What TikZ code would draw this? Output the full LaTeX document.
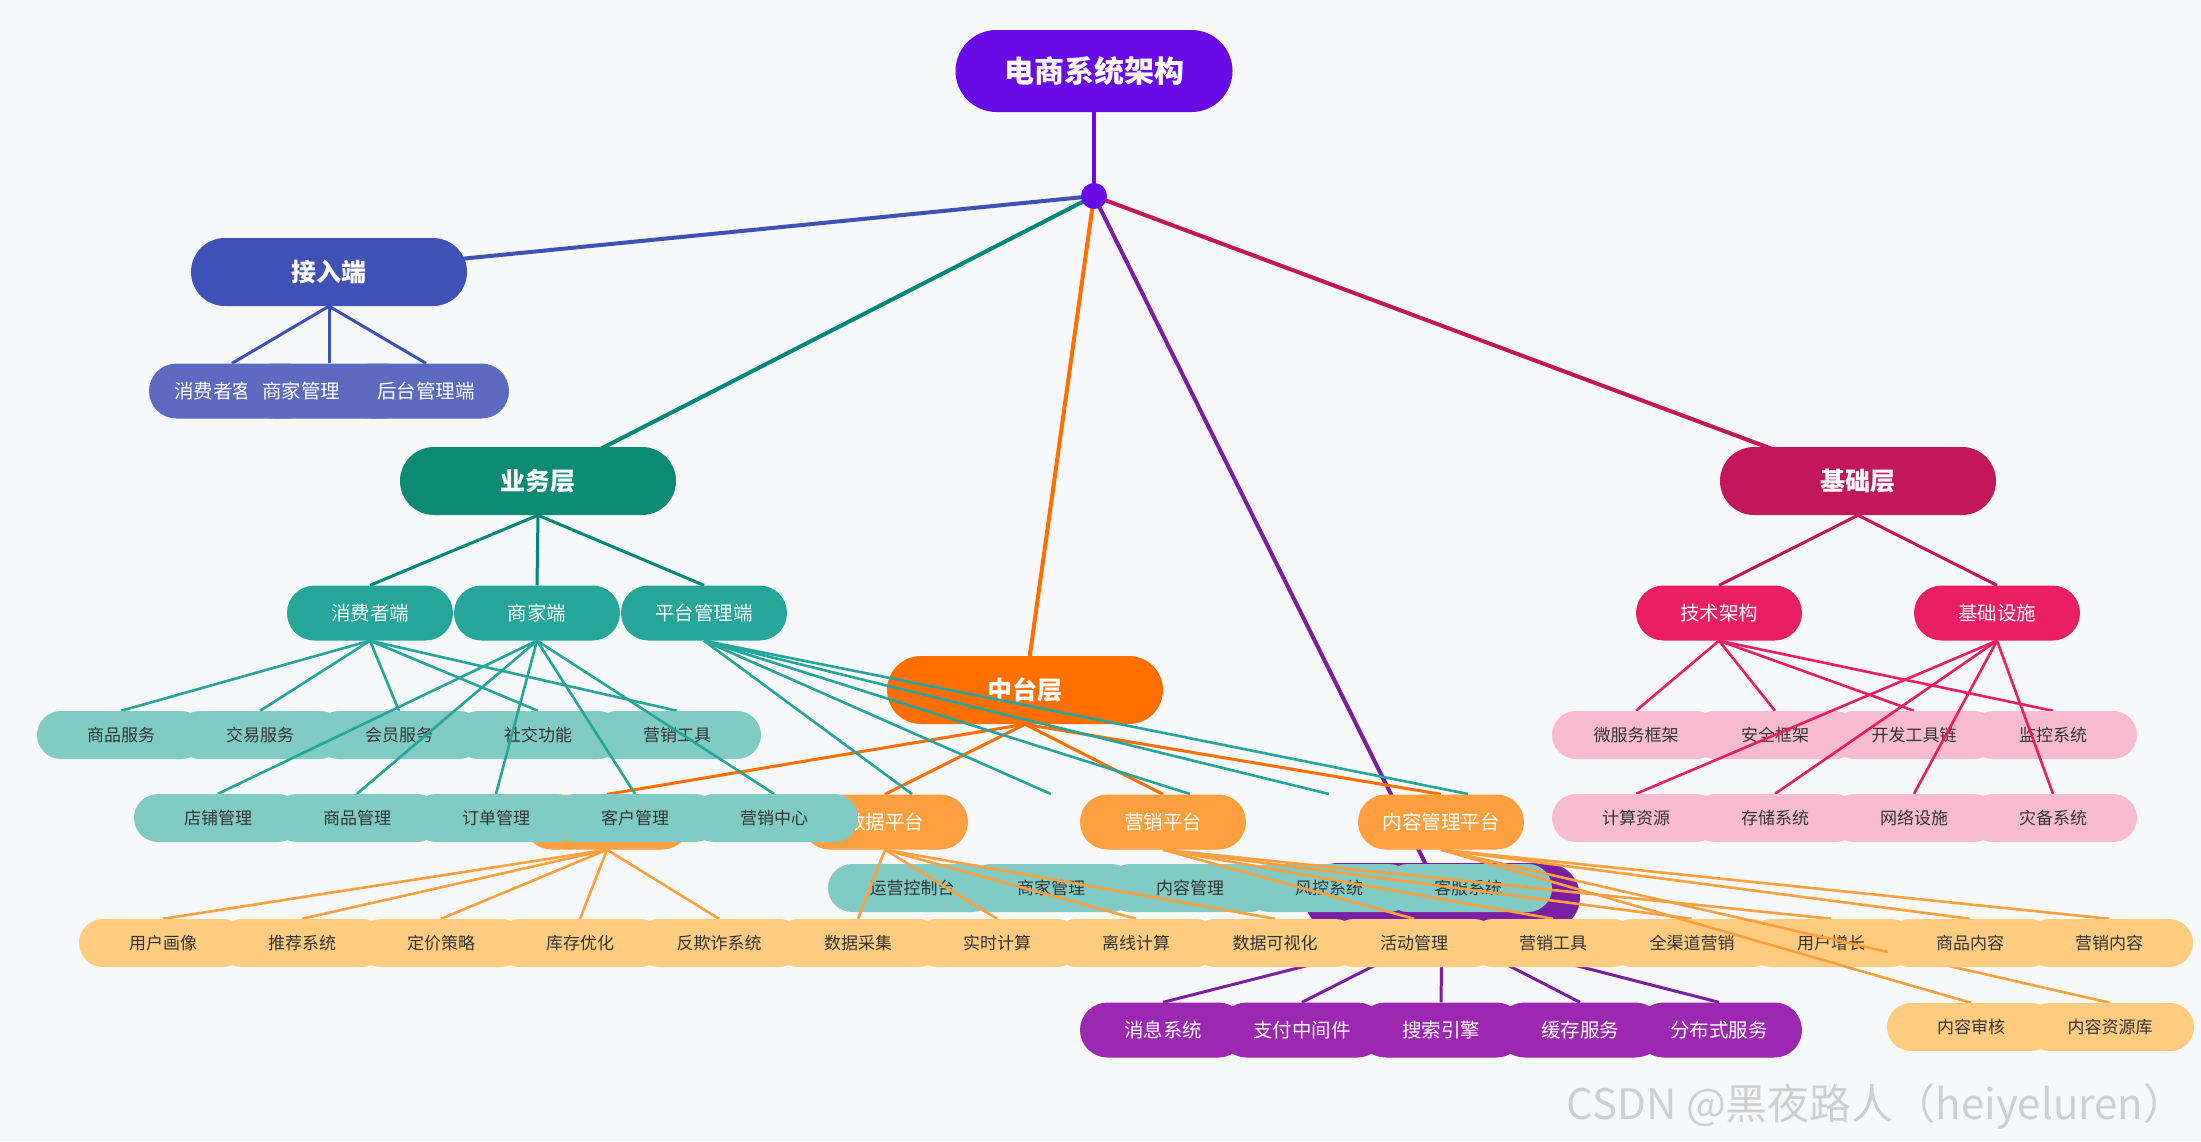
\documentclass[tikz,border=0pt]{standalone}
\usepackage{fontspec}
\setmainfont{Noto Sans CJK SC}
\pgfdeclarelayer{bgl}
\pgfdeclarelayer{eA}\pgfdeclarelayer{nA}
\pgfdeclarelayer{eB}\pgfdeclarelayer{nB}
\pgfdeclarelayer{Xe}\pgfdeclarelayer{Xn}
\pgfdeclarelayer{Se}\pgfdeclarelayer{Sn}
\pgfdeclarelayer{Pe}\pgfdeclarelayer{Pn}
\pgfdeclarelayer{Oe}\pgfdeclarelayer{On}
\pgfdeclarelayer{De}\pgfdeclarelayer{Dn}
\pgfdeclarelayer{Me}\pgfdeclarelayer{Mn}
\pgfdeclarelayer{Ce}\pgfdeclarelayer{Cn}
\pgfdeclarelayer{Te}\pgfdeclarelayer{Tn}
\pgfdeclarelayer{Ie}\pgfdeclarelayer{In}
\pgfsetlayers{bgl,eA,nA,eB,nB,Xe,Xn,Se,Sn,Pe,Pn,Oe,On,De,Dn,Me,Mn,Ce,Cn,Te,Tn,Ie,In,main}
\definecolor{bgc}{HTML}{F7F8FA}
\definecolor{rootc}{HTML}{6A0AE6}
\definecolor{indA}{HTML}{3F51B5}
\definecolor{indK}{HTML}{5C6BC0}
\definecolor{tealA}{HTML}{0D8B75}
\definecolor{tealE}{HTML}{00897B}
\definecolor{tealK}{HTML}{26A69A}
\definecolor{tealL}{HTML}{80CBC4}
\definecolor{orgA}{HTML}{FF6F00}
\definecolor{orgK}{HTML}{FFA040}
\definecolor{orgL}{HTML}{FFCC80}
\definecolor{purA}{HTML}{7B1FA2}
\definecolor{purK}{HTML}{9C27B0}
\definecolor{pinkA}{HTML}{C2185B}
\definecolor{pinkK}{HTML}{E91E63}
\definecolor{pinkL}{HTML}{F8BBD0}
\definecolor{txt}{HTML}{333333}
\definecolor{wmark}{HTML}{CFCFCF}
\tikzset{
  layerbox/.style={minimum width=276pt, minimum height=68pt, rounded corners=34pt, inner sep=0pt, text=white, font=\fontsize{25}{30}\selectfont\bfseries},
  kidbox/.style={minimum width=166pt, minimum height=55pt, rounded corners=27.5pt, inner sep=0pt, text=white, font=\fontsize{19.5}{23}\selectfont},
  leafbox/.style={minimum width=168pt, minimum height=48pt, rounded corners=24pt, inner sep=0pt, text=txt, font=\fontsize{17}{20}\selectfont},
  edgeA/.style={line width=4pt},
  edgeB/.style={line width=3pt},
  edgeC/.style={line width=2.6pt}
}
\begin{document}
\begin{tikzpicture}[x=1pt,y=-1pt]
\useasboundingbox (0,0) rectangle (2201,1141);
\begin{pgfonlayer}{bgl}
\fill[bgc] (0,0) rectangle (2201,1141);
\end{pgfonlayer}
% ---------- level 0/1 nodes
\begin{pgfonlayer}{nA}
\node[layerbox, fill=rootc, minimum width=277pt, minimum height=82pt, rounded corners=41pt, font=\fontsize{30}{36}\selectfont\bfseries] (R) at (1094,71) {电商系统架构};
\node[circle, fill=rootc, minimum size=26pt, inner sep=0pt] (hub) at (1094,196) {};
\node[layerbox, fill=indA] (A) at (329,272) {接入端};
\node[layerbox, fill=tealA] (B) at (538,481) {业务层};
\node[layerbox, fill=orgA] (C) at (1025,690) {中台层};
\node[layerbox, fill=purA] (D) at (1442,897) {};
\node[layerbox, fill=pinkA] (E) at (1858,481) {基础层};
\end{pgfonlayer}
% ---------- level 2 nodes
\begin{pgfonlayer}{nB}
\node[kidbox, fill=indK, text width=116pt, align=left] (a1) at (232,391) {消费者客};
\node[kidbox, fill=indK, text width=134pt, align=left] (a2) at (329,391) {商家管理};
\node[kidbox, fill=indK] (a3) at (426,391) {后台管理端};
\node[kidbox, fill=tealK] (b1) at (370,613) {消费者端};
\node[kidbox, fill=tealK] (b2) at (537,613) {商家端};
\node[kidbox, fill=tealK] (b3) at (704,613) {平台管理端};
\node[kidbox, fill=orgK] (c1) at (607,822) {};
\node[kidbox, fill=orgK] (c2) at (885,822) {数据平台};
\node[kidbox, fill=orgK] (c3) at (1163,822) {营销平台};
\node[kidbox, fill=orgK] (c4) at (1441,822) {内容管理平台};
\foreach \t [count=\i from 0] in {消息系统,支付中间件,搜索引擎,缓存服务,分布式服务}
  \node[kidbox, fill=purK] (d\i) at (1163+139*\i,1030) {\t};
\node[kidbox, fill=pinkK] (t1) at (1719,613) {技术架构};
\node[kidbox, fill=pinkK] (t2) at (1997,613) {基础设施};
\end{pgfonlayer}
% ---------- level 3 nodes
\begin{pgfonlayer}{Xn}
\foreach \t [count=\i from 0] in {商品服务,交易服务,会员服务,社交功能,营销工具}
  \node[leafbox, fill=tealL] (x\i) at (121+139*\i,735) {\t};
\end{pgfonlayer}
\begin{pgfonlayer}{Sn}
\foreach \t [count=\i from 0] in {店铺管理,商品管理,订单管理,客户管理,营销中心}
  \node[leafbox, fill=tealL] (s\i) at (218+139*\i,818) {\t};
\end{pgfonlayer}
\begin{pgfonlayer}{Pn}
\foreach \t [count=\i from 0] in {运营控制台,商家管理,内容管理,风控系统,客服系统}
  \node[leafbox, fill=tealL] (p\i) at (912+139*\i,888) {\t};
\end{pgfonlayer}
\begin{pgfonlayer}{On}
\foreach \t [count=\i from 0] in {用户画像,推荐系统,定价策略,库存优化,反欺诈系统}
  \node[leafbox, fill=orgL] (r\i) at (163+139*\i,943) {\t};
\end{pgfonlayer}
\begin{pgfonlayer}{Dn}
\foreach \t [count=\i from 5] in {数据采集,实时计算,离线计算,数据可视化}
  \node[leafbox, fill=orgL] (r\i) at (163+139*\i,943) {\t};
\end{pgfonlayer}
\begin{pgfonlayer}{Mn}
\foreach \t [count=\i from 9] in {活动管理,营销工具,全渠道营销,用户增长}
  \node[leafbox, fill=orgL] (r\i) at (163+139*\i,943) {\t};
\end{pgfonlayer}
\begin{pgfonlayer}{Cn}
\foreach \t [count=\i from 13] in {商品内容,营销内容}
  \node[leafbox, fill=orgL] (r\i) at (163+139*\i,943) {\t};
\node[leafbox, fill=orgL] (q0) at (1971,1027) {内容审核};
\node[leafbox, fill=orgL] (q1) at (2110,1027) {内容资源库};
\end{pgfonlayer}
\begin{pgfonlayer}{Tn}
\foreach \t [count=\i from 0] in {微服务框架,安全框架,开发工具链,监控系统}
  \node[leafbox, fill=pinkL] (u\i) at (1636+139*\i,735) {\t};
\end{pgfonlayer}
\begin{pgfonlayer}{In}
\foreach \t [count=\i from 0] in {计算资源,存储系统,网络设施,灾备系统}
  \node[leafbox, fill=pinkL] (v\i) at (1636+139*\i,818) {\t};
\end{pgfonlayer}
% ---------- edges level 1
\begin{pgfonlayer}{eA}
\draw[edgeA, rootc] (R.south) -- (hub.center);
\draw[edgeA, indA] (hub.center) -- (A.center);
\draw[edgeA, tealE] (hub.center) -- (B.center);
\draw[edgeA, orgA] (hub.center) -- (C.center);
\draw[edgeA, purA] (hub.center) -- (D.center);
\draw[edgeA, pinkA] (hub.center) -- (E.center);
\end{pgfonlayer}
% ---------- edges level 2
\begin{pgfonlayer}{eB}
\foreach \n in {a1,a2,a3} \draw[edgeB, indA] (A.south) -- (\n.north);
\foreach \n in {b1,b2,b3} \draw[edgeB, tealE] (B.south) -- (\n.north);
\foreach \n in {c1,c2,c3,c4} \draw[edgeB, orgA] (C.south) -- (\n.north);
\foreach \i in {0,...,4} \draw[edgeB, purA] (D.south) -- (d\i.north);
\foreach \n in {t1,t2} \draw[edgeB, pinkA] (E.south) -- (\n.north);
\end{pgfonlayer}
% ---------- edges level 3
\begin{pgfonlayer}{Xe}
\foreach \i in {0,...,4} \draw[edgeC, tealK] (b1.south) -- (x\i.north);
\end{pgfonlayer}
\begin{pgfonlayer}{Se}
\foreach \i in {0,...,4} \draw[edgeC, tealK] (b2.south) -- (s\i.north);
\end{pgfonlayer}
\begin{pgfonlayer}{Pe}
\foreach \i in {0,...,4} {
  \coordinate (pt\i) at (912+139*\i,794);
  \draw[edgeC, tealK] (b3.south) -- (pt\i);
}
\end{pgfonlayer}
\begin{pgfonlayer}{Oe}
\foreach \i in {0,...,4} \draw[edgeC, orgK] (c1.south) -- (r\i.north);
\end{pgfonlayer}
\begin{pgfonlayer}{De}
\foreach \i in {5,...,8} \draw[edgeC, orgK] (c2.south) -- (r\i.north);
\end{pgfonlayer}
\begin{pgfonlayer}{Me}
\foreach \i in {9,...,12} \draw[edgeC, orgK] (c3.south) -- (r\i.north);
\end{pgfonlayer}
\begin{pgfonlayer}{Ce}
\foreach \n in {r13,r14,q0,q1} \draw[edgeC, orgK] (c4.south) -- (\n.north);
\end{pgfonlayer}
\begin{pgfonlayer}{Te}
\foreach \i in {0,...,3} \draw[edgeC, pinkK] (t1.south) -- (u\i.north);
\end{pgfonlayer}
\begin{pgfonlayer}{Ie}
\foreach \i in {0,...,3} \draw[edgeC, pinkK] (t2.south) -- (v\i.north);
\end{pgfonlayer}
% ---------- watermark
\node[text=wmark, font=\fontsize{42}{48}\selectfont, inner sep=0pt] (wm) at (1876,1106) {CSDN @黑夜路人（heiyeluren）};
\end{tikzpicture}
\end{document}
